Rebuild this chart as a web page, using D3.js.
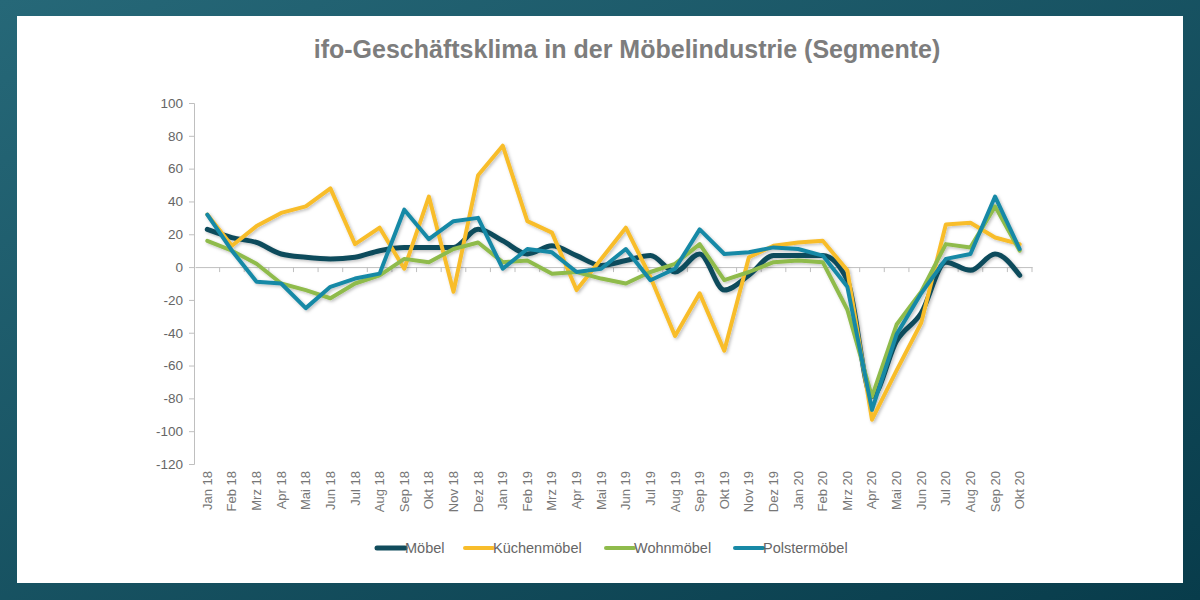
<!DOCTYPE html>
<html>
<head>
<meta charset="utf-8">
<script src="https://cdn.jsdelivr.net/npm/d3@7"></script>
<style>
  html, body { margin: 0; padding: 0; background: #1b5666; }
  svg { display: block; font-family: "Liberation Sans", Arial, sans-serif; }
</style>
</head>
<body>
<svg id="chart" width="1200" height="600"></svg>
<script>
const months = ['Jan 18', 'Feb 18', 'Mrz 18', 'Apr 18', 'Mai 18', 'Jun 18', 'Jul 18', 'Aug 18', 'Sep 18', 'Okt 18', 'Nov 18', 'Dez 18',
  'Jan 19', 'Feb 19', 'Mrz 19', 'Apr 19', 'Mai 19', 'Jun 19', 'Jul 19', 'Aug 19', 'Sep 19', 'Okt 19', 'Nov 19', 'Dez 19',
  'Jan 20', 'Feb 20', 'Mrz 20', 'Apr 20', 'Mai 20', 'Jun 20', 'Jul 20', 'Aug 20', 'Sep 20', 'Okt 20']

const moebel = [23, 18, 15, 8, 6, 5, 6, 10, 12, 12, 12, 23,
  16, 8, 13, 7, 1, 4, 7, -3, 8, -14, -5, 7,
  7, 7, -8, -79, -45, -28, 3, -2, 8, -5]
const kuechen = [32, 13, 25, 33, 37, 48, 14, 24, -1, 43, -15, 56,
  74, 28, 21, -14, 5, 24, -6, -42, -16, -51, 6, 13,
  15, 16, -2, -93, -63, -34, 26, 27, 18, 14]
const wohn = [16, 10, 2, -10, -14, -19, -10, -5, 5, 3, 11, 15,
  3, 4, -4, -3, -7, -10, -3, 2, 14, -8, -3, 3,
  4, 3, -26, -79, -35, -15, 14, 12, 37, 10]
const polster = [32, 10, -9, -10, -25, -12, -7, -4, 35, 17, 28, 30,
  -1, 11, 9, -3, -1, 11, -8, -1, 23, 8, 9, 12,
  11, 7, -12, -87, -41, -16, 5, 8, 43, 11]

const yTicks = [100, 80, 60, 40, 20, 0, -20, -40, -60, -80, -100, -120]

const series = [
  { name: 'Möbel', values: moebel, color: '#114c5c', width: 5 },
  { name: 'Küchenmöbel', values: kuechen, color: '#f8bd2b', width: 4 },
  { name: 'Wohnmöbel', values: wohn, color: '#8fbb4c', width: 4 },
  { name: 'Polstermöbel', values: polster, color: '#1889a6', width: 4 }
]

const svg = d3.select('#chart')

// frame
const defs = svg.append('defs')
const grad = defs.append('linearGradient').attr('id', 'frame').attr('x1', 0).attr('y1', 0).attr('x2', 1).attr('y2', 1)
grad.append('stop').attr('offset', '0%').attr('stop-color', '#266878')
grad.append('stop').attr('offset', '100%').attr('stop-color', '#083c4b')
svg.append('rect').attr('width', 1200).attr('height', 600).attr('fill', 'url(#frame)')
svg.append('rect').attr('x', 17).attr('y', 16).attr('width', 1166).attr('height', 567).attr('fill', '#ffffff')

const shadow = defs.append('filter').attr('id', 'shadow').attr('x', '-5%').attr('y', '-5%').attr('width', '110%').attr('height', '110%')
shadow.append('feDropShadow').attr('dx', 1.5).attr('dy', 1.5).attr('stdDeviation', 1.5)
  .attr('flood-color', '#000').attr('flood-opacity', 0.25)

const x = d3.scaleBand().domain(months).range([195, 1032])
const y = d3.scaleLinear().domain([-120, 100]).range([464, 103])

// title
svg.append('text')
  .attr('x', 627).attr('y', 58)
  .attr('text-anchor', 'middle')
  .attr('font-size', 25).attr('font-weight', 'bold')
  .attr('fill', '#7d7d7d')
  .text('ifo-Geschäftsklima in der Möbelindustrie (Segmente)')

// y axis, hyphen minus like the original
const yAxis = svg.append('g')
  .attr('transform', 'translate(194,0)')
  .call(d3.axisLeft(y).tickValues(yTicks).tickSize(5).tickPadding(6).tickFormat(d => String(d)))
yAxis.select('.domain').attr('stroke', '#bfbfbf')
yAxis.selectAll('.tick line').attr('stroke', '#bfbfbf')
yAxis.selectAll('.tick text').attr('fill', '#666').attr('font-size', 13.5)
  .attr('font-family', '"Liberation Sans", Arial, sans-serif')

// zero line with category ticks
const xAxis = svg.append('g')
  .attr('transform', `translate(0,${y(0)})`)
  .call(d3.axisBottom(x).tickValues([]).tickSizeOuter(0))
xAxis.select('.domain').attr('stroke', '#bfbfbf')
xAxis.selectAll('.boundary')
  .data(d3.range(1, months.length + 1))
  .enter()
  .append('line')
  .attr('x1', i => x.range()[0] + i * x.step())
  .attr('x2', i => x.range()[0] + i * x.step())
  .attr('y1', 0).attr('y2', 5)
  .attr('stroke', '#bfbfbf')

// category labels
svg.append('g')
  .selectAll('text')
  .data(months)
  .enter()
  .append('text')
  .attr('transform', d => `translate(${x(d) + x.bandwidth() / 2 + 4.5},471) rotate(-90)`)
  .attr('text-anchor', 'end')
  .attr('font-size', 13)
  .attr('fill', '#777')
  .text(d => d)

// lines
const plot = svg.append('g').attr('filter', 'url(#shadow)')
series.forEach((s) => {
  const line = d3.line()
    .x((d, i) => x(months[i]) + x.bandwidth() / 2)
    .y(d => y(d))
    .curve(s.name === 'Möbel' ? d3.curveMonotoneX : d3.curveLinear)
  plot.append('path')
    .datum(s.values)
    .attr('d', line)
    .attr('fill', 'none')
    .attr('stroke', s.color)
    .attr('stroke-width', s.width)
    .attr('stroke-linejoin', 'round')
    .attr('stroke-linecap', 'round')
})

// legend
const legendX = [377, 465, 606, 735]
const legend = svg.append('g')
  .selectAll('g')
  .data(series)
  .enter()
  .append('g')
  .attr('transform', (d, i) => `translate(${legendX[i]},548)`)
legend.append('line')
  .attr('x1', 0).attr('x2', 28)
  .attr('stroke', d => d.color)
  .attr('stroke-width', d => d.width)
  .attr('stroke-linecap', 'round')
legend.append('text')
  .attr('x', 28).attr('y', 5)
  .attr('font-size', 14.5)
  .attr('fill', '#666')
  .text(d => d.name)
</script>
</body>
</html>
